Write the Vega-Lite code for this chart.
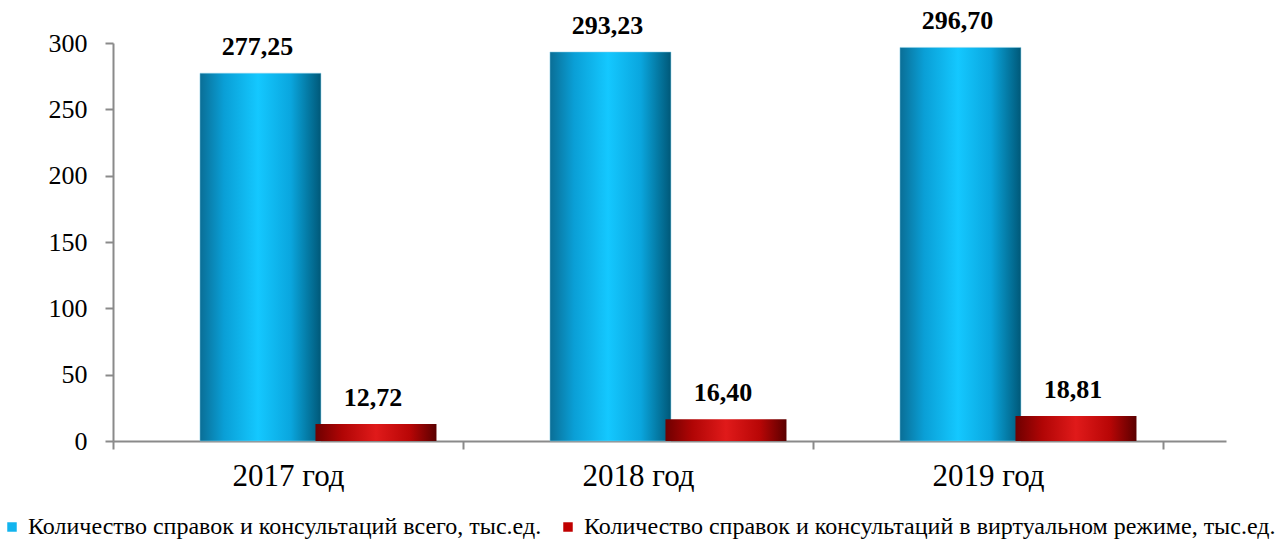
{
  "$schema": "https://vega.github.io/schema/vega-lite/v6.json",
  "autosize": "none",
  "width": 1113,
  "height": 398,
  "padding": {"left": 113, "top": 43, "right": 53, "bottom": 100},
  "background": "white",
  "config": {
    "view": {"stroke": null},
    "locale": {"number": {"decimal": ",", "thousands": " ", "grouping": [3], "currency": ["", ""]}},
    "font": "Liberation Serif",
    "legend": {"labelFont": "Liberation Serif"}
  },
  "data": {
    "values": [
      {"year": "2017 год", "series": "Количество справок и консультаций всего, тыс.ед.", "value": 277.25},
      {"year": "2018 год", "series": "Количество справок и консультаций всего, тыс.ед.", "value": 293.23},
      {"year": "2019 год", "series": "Количество справок и консультаций всего, тыс.ед.", "value": 296.70},
      {"year": "2017 год", "series": "Количество справок и консультаций в виртуальном режиме, тыс.ед.", "value": 12.72},
      {"year": "2018 год", "series": "Количество справок и консультаций в виртуальном режиме, тыс.ед.", "value": 16.40},
      {"year": "2019 год", "series": "Количество справок и консультаций в виртуальном режиме, тыс.ед.", "value": 18.81}
    ]
  },
  "encoding": {
    "x": {
      "field": "year", "type": "nominal", "sort": null,
      "scale": {"paddingInner": 0, "paddingOuter": 0.09, "align": 0},
      "axis": {
        "title": null, "labelAngle": 0, "labelFontSize": 31, "labelColor": "#000",
        "labelFont": "Liberation Serif", "labelPadding": 12,
        "tickBand": "extent", "tickSize": 8, "tickColor": "#8a8a8a", "tickWidth": 2,
        "domainColor": "#8a8a8a", "domainWidth": 2
      }
    },
    "xOffset": {
      "field": "series", "type": "nominal", "sort": null,
      "scale": {
        "domain": ["Количество справок и консультаций всего, тыс.ед.", "Количество справок и консультаций в виртуальном режиме, тыс.ед."],
        "paddingInner": 0, "paddingOuter": 0.515, "align": 0.754
      }
    },
    "y": {
      "field": "value", "type": "quantitative",
      "scale": {"domain": [0, 300], "nice": false},
      "axis": {
        "title": null, "values": [0, 50, 100, 150, 200, 250, 300], "grid": false,
        "labelFontSize": 26, "labelColor": "#000", "labelFont": "Liberation Serif", "labelPadding": 18,
        "tickSize": 8, "tickColor": "#8a8a8a", "tickWidth": 2,
        "domainColor": "#8a8a8a", "domainWidth": 2
      }
    }
  },
  "layer": [
    {
      "transform": [{"filter": "datum.series == 'Количество справок и консультаций всего, тыс.ед.'"}],
      "mark": {
        "type": "bar", "width": 121,
        "fill": {
          "gradient": "linear", "x1": 0, "x2": 1, "y1": 0, "y2": 0,
          "stops": [
            {"offset": 0, "color": "#0a6e96"},
            {"offset": 0.2, "color": "#0a9fd6"},
            {"offset": 0.48, "color": "#14c8ff"},
            {"offset": 0.75, "color": "#0aa6de"},
            {"offset": 1, "color": "#005878"}
          ]
        },
        "stroke": "#8fd3ea", "strokeWidth": 0.5
      }
    },
    {
      "transform": [{"filter": "datum.series != 'Количество справок и консультаций всего, тыс.ед.'"}],
      "mark": {
        "type": "bar", "width": 121,
        "fill": {
          "gradient": "linear", "x1": 0, "x2": 1, "y1": 0, "y2": 0,
          "stops": [
            {"offset": 0, "color": "#6e0000"},
            {"offset": 0.22, "color": "#b00505"},
            {"offset": 0.5, "color": "#e01a1a"},
            {"offset": 0.78, "color": "#b80606"},
            {"offset": 1, "color": "#5a0000"}
          ]
        }
      }
    },
    {
      "mark": {"type": "text", "fontWeight": "bold", "fontSize": 26, "font": "Liberation Serif", "baseline": "alphabetic", "dy": -18, "dx": -3, "color": "#000"},
      "encoding": {
        "text": {"field": "value", "type": "quantitative", "format": ".2f"}
      }
    },
    {
      "mark": {"type": "point", "opacity": 0, "filled": true, "shape": "square"},
      "encoding": {
        "color": {
          "field": "series", "type": "nominal", "sort": null,
          "scale": {
            "domain": ["Количество справок и консультаций всего, тыс.ед.", "Количество справок и консультаций в виртуальном режиме, тыс.ед."],
            "range": ["#12b4ee", "#c00000"]
          },
          "legend": {
            "title": null, "orient": "none", "direction": "horizontal",
            "legendX": -113, "legendY": 472,
            "symbolType": "square", "symbolSize": 90, "symbolOpacity": 1, "symbolStrokeWidth": 0,
            "labelFontSize": 24, "labelFont": "Liberation Serif", "labelColor": "#000",
            "labelLimit": 900, "labelOffset": 4, "columnPadding": 14
          }
        }
      }
    }
  ]
}
